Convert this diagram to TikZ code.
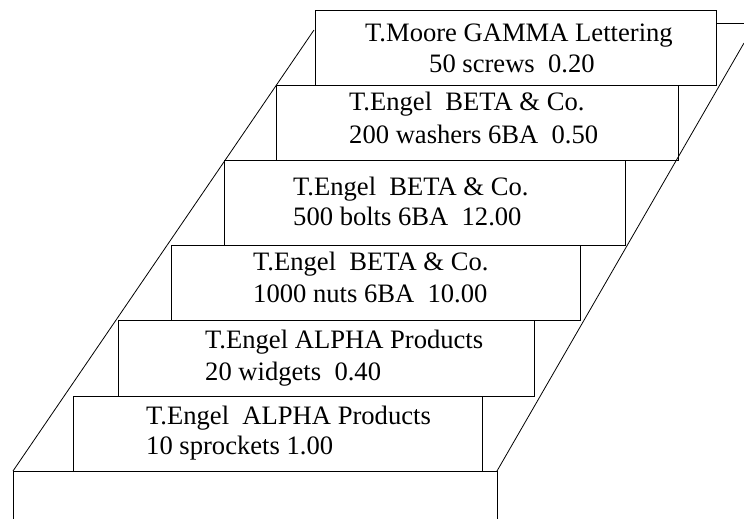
\documentclass[tikz,border=0pt]{standalone}
\usepackage{fontspec}
\setmainfont{Liberation Serif}
\begin{document}
\begin{tikzpicture}[x=1pt,y=-1pt,
  crate/.style={draw=black, line width=0.9pt, fill=white, anchor=north west, inner sep=0pt},
  lbl/.style={anchor=base west, inner sep=0pt, font=\fontsize{26.6}{31}\selectfont},
  edge/.style={draw=black, line width=0.8pt}]
\useasboundingbox (0,0) rectangle (744,519);
% boxes
\node[crate, minimum width=401pt, minimum height=75pt] (b1) at (315,10) {};
\node[crate, minimum width=402pt, minimum height=75pt] (b2) at (276,85) {};
\node[crate, minimum width=401pt, minimum height=85pt] (b3) at (224,160) {};
\node[crate, minimum width=409pt, minimum height=75pt] (b4) at (171,245) {};
\node[crate, minimum width=416pt, minimum height=76pt] (b5) at (118,320) {};
\node[crate, minimum width=409pt, minimum height=75pt] (b6) at (73,396) {};
% texts
\node[lbl] (t1a) at (365,42) {T.Moore GAMMA Lettering};
\node[lbl] (t1b) at (429,72) {50 screws\ \ 0.20};
\node[lbl] (t2a) at (349,110) {T.Engel\ \ BETA \& Co.};
\node[lbl] (t2b) at (349,143) {200 washers 6BA\ \ 0.50};
\node[lbl] (t3a) at (293,195) {T.Engel\ \ BETA \& Co.};
\node[lbl] (t3b) at (293,225) {500 bolts 6BA\ \ 12.00};
\node[lbl] (t4a) at (253,270) {T.Engel\ \ BETA \& Co.};
\node[lbl] (t4b) at (253,302) {1000 nuts 6BA\ \ 10.00};
\node[lbl] (t5a) at (205,348) {T.Engel ALPHA Products};
\node[lbl] (t5b) at (205,380) {20 widgets\ \ 0.40};
\node[lbl] (t6a) at (146,424) {T.Engel\ \ ALPHA Products};
\node[lbl] (t6b) at (146,454) {10 sprockets 1.00};
% frame coordinates
\coordinate (ltop) at (314,30);
\coordinate (bl) at (13,471);
\coordinate (br) at (497,471);
\coordinate (bll) at (13,519);
\coordinate (brr) at (497,519);
\coordinate (rtop) at (744,43);
\coordinate (hstart) at (716,23);
\coordinate (hend) at (744,23);
% frame lines
\draw[edge] (ltop) -- (bl);
\draw[edge] (bll) -- (bl) -- (br) -- (brr);
\draw[edge] (br) -- (rtop);
\draw[edge] (hstart) -- (hend);
\end{tikzpicture}
\end{document}
